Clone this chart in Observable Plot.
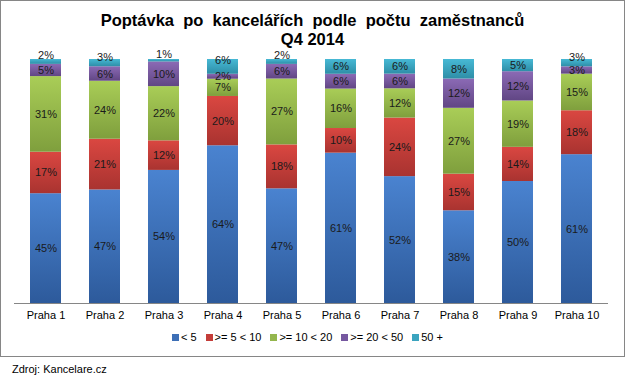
<!DOCTYPE html>
<html><head><meta charset="utf-8">
<script src="https://cdn.jsdelivr.net/npm/d3@7"></script>
<script src="https://cdn.jsdelivr.net/npm/@observablehq/plot@0.6"></script>
<style>
body{margin:0;background:#fff;font-family:"Liberation Sans",Arial,sans-serif;color:#000;}
#frame{position:absolute;left:0;top:0;width:623px;height:355px;border:1px solid #868686;overflow:hidden;}
#title{position:absolute;left:0;top:10px;width:623px;text-align:center;font-weight:bold;font-size:16.5px;line-height:19px;white-space:pre;}
#chart{position:absolute;left:0;top:0;}
#legend{position:absolute;left:171px;top:330px;display:flex;gap:9px;font-size:11px;white-space:pre;align-items:center;}
#legend .it{display:flex;align-items:center;}
#legend .sw{width:7px;height:7px;margin-right:2px;}
#caption{position:absolute;left:12px;top:363px;font-size:11px;}
</style>
</head><body>
<div id="frame">
  <div id="title">Poptávka  po  kancelářích  podle  počtu  zaměstnanců
Q4 2014</div>
  <div id="chart"></div>
  <div id="legend"></div>
</div>
<div id="caption">Zdroj: Kancelare.cz</div>
<script>
const categories = ["Praha 1","Praha 2","Praha 3","Praha 4","Praha 5","Praha 6","Praha 7","Praha 8","Praha 9","Praha 10"];
const series = ["< 5", ">= 5 < 10", ">= 10 < 20", ">= 20 < 50", "50 +"];
const lt5     = [45, 47, 54, 64, 47, 61, 52, 38, 50, 61];
const s5to10  = [17, 21, 12, 20, 18, 10, 24, 15, 14, 18];
const s10to20 = [31, 24, 22,  7, 27, 16, 12, 27, 19, 15];
const s20to50 = [ 5,  6, 10,  2,  6,  6,  6, 12, 12,  3];
const s50plus = [ 2,  3,  1,  6,  2,  6,  6,  8,  5,  3];
const seriesValues = [lt5, s5to10, s10to20, s20to50, s50plus];

const gradTop    = ["#4a83d0", "#da4741", "#a9cd57", "#8b6ab5", "#47b9d5"];
const gradBottom = ["#2d5a9b", "#a93330", "#7f9f3d", "#614684", "#2e8ea7"];
const swatch     = ["#3d6fb6", "#c43d39", "#94b64d", "#7658a0", "#3ba4bf"];

const data = [];
series.forEach((s, si) => categories.forEach((c, ci) => data.push({cat: c, series: s, si, ci, value: seriesValues[si][ci]})));

const lastSi = series.length - 1;
const isLifted = d => d.si === lastSi && (d.value <= 3 || seriesValues[lastSi - 1][d.ci] <= 3);
const labelOpts = (show, dy) => Plot.stackY({
  x: "cat", y: "value", z: "series", order: series, offset: "normalize",
  text: d => show(d) ? d.value + "%" : null, fill: "#1a1a1a", fontSize: 11, dy
});

const plot = Plot.plot({
  width: 623, height: 329,
  marginLeft: 13, marginRight: 16, marginTop: 58, marginBottom: 27,
  style: {fontFamily: '"Liberation Sans", Arial, sans-serif', fontSize: "11px", color: "#000", background: "transparent"},
  x: {domain: categories, paddingInner: 0.48, paddingOuter: 0.24, label: null},
  y: {axis: null},
  color: {domain: series, range: series.map((_, i) => `url(#grad${i})`)},
  marks: [
    Plot.barY(data, {x: "cat", y: "value", fill: "series", order: series, offset: "normalize"}),
    Plot.text(data, labelOpts(d => !isLifted(d), 0)),
    Plot.text(data, labelOpts(d => isLifted(d), -6)),
    Plot.ruleY([0], {stroke: "#868686"}),
    Plot.axisX({tickSize: 0, tickPadding: 8, fontSize: 11, fill: "#000"})
  ]
});
const svg = d3.select(plot);
const defs = svg.insert("defs", ":first-child");
series.forEach((s, i) => {
  const g = defs.append("linearGradient").attr("id", "grad" + i).attr("x1", 0).attr("y1", 0).attr("x2", 0).attr("y2", 1);
  g.append("stop").attr("offset", "0%").attr("stop-color", gradTop[i]);
  g.append("stop").attr("offset", "100%").attr("stop-color", gradBottom[i]);
});
document.getElementById("chart").appendChild(plot);

const legend = d3.select("#legend");
series.forEach((s, i) => {
  const it = legend.append("div").attr("class", "it");
  it.append("div").attr("class", "sw").style("background", swatch[i]);
  it.append("span").text(s);
});
</script>
</body></html>
